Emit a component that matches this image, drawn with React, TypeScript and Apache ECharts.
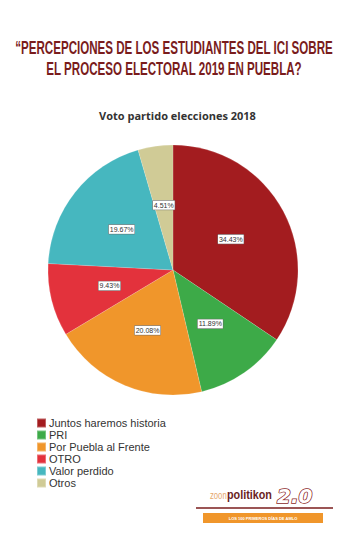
import React, { useEffect, useRef } from "react";
import * as echarts from "echarts";

const categories = ["Juntos haremos historia", "PRI", "Por Puebla al Frente", "OTRO", "Valor perdido", "Otros"];
const values = [34.43, 11.89, 20.08, 9.43, 19.67, 4.51];
const colors = ["#A31C1F", "#3DAA48", "#F0962B", "#E3323C", "#46B7BF", "#D0CB96"];
const titleLines = ["\u201CPERCEPCIONES DE LOS ESTUDIANTES DEL ICI SOBRE", "EL PROCESO ELECTORAL 2019 EN PUEBLA?"];
const subtitle = "Voto partido elecciones 2018";

export default function App() {
  const ref = useRef<HTMLDivElement>(null);
  useEffect(() => {
    if (!ref.current) return;
    const chart = echarts.init(ref.current, undefined, { renderer: "svg" });
    const titleStyle = {
      fill: "#7A1C1C",
      font: "bold 19px 'Liberation Sans', Arial, sans-serif",
      textAlign: "center" as const,
      textVerticalAlign: "middle" as const,
    };
    chart.setOption({
      animation: false,
      backgroundColor: "#ffffff",
      color: colors,
      title: {
        text: subtitle,
        left: "center",
        top: 105,
        textStyle: { color: "#333", fontSize: 11, fontWeight: "bold", fontFamily: "'Open Sans', sans-serif" },
      },
      legend: {
        orient: "vertical",
        left: 36,
        top: 417,
        padding: 0,
        itemWidth: 9,
        itemHeight: 9,
        itemGap: 0,
        icon: "rect",
        data: categories,
        textStyle: { color: "#333", fontSize: 11, lineHeight: 12, fontFamily: "'Liberation Sans', Arial, sans-serif", padding: [0, 0, 0, -2] },
      },
      graphic: [
        { type: "group", x: 174, y: 47, scaleX: 0.61, children: [{ type: "text", x: 0, y: 0, style: { ...titleStyle, text: titleLines[0] } }] },
        { type: "group", x: 174, y: 68, scaleX: 0.61, children: [{ type: "text", x: 0, y: 0, style: { ...titleStyle, text: titleLines[1] } }] },
        { type: "group", x: 210, y: 495, scaleX: 0.7, children: [{ type: "text", x: 0, y: 0, style: { text: "zoon", fill: "#E6A86C", font: "11px 'Liberation Sans', sans-serif", textVerticalAlign: "middle" } }] },
        { type: "group", x: 227, y: 495, scaleX: 0.9, children: [{ type: "text", x: 0, y: 0, style: { text: "politikon", fill: "#6B1E1E", font: "bold 12px 'Liberation Sans', sans-serif", textVerticalAlign: "middle" } }] },
        { type: "text", x: 277, y: 496, style: { text: "2.0", fill: "#ffffff", stroke: "#8A1F1F", lineWidth: 1.5, font: "italic bold 20px 'DejaVu Sans', sans-serif", textVerticalAlign: "middle" } },
        { type: "line", shape: { x1: 196, y1: 508, x2: 333, y2: 508 }, style: { stroke: "#7A1C1C", lineWidth: 1.5 } },
        { type: "rect", shape: { x: 203, y: 513, width: 120, height: 10 }, style: { fill: "#F0962B" } },
        { type: "text", x: 263, y: 518, style: { text: "LOS 100 PRIMEROS DÍAS DE AMLO", fill: "#ffffff", font: "bold 4px sans-serif", textAlign: "center", textVerticalAlign: "middle" } },
      ],
      series: [
        {
          type: "pie",
          center: [173, 270],
          radius: 125,
          startAngle: 90,
          clockwise: true,
          label: {
            show: true,
            position: "inside",
            formatter: (p: any) => p.value.toFixed(2) + "%",
            fontSize: 7,
            color: "#333",
            backgroundColor: "#fff",
            borderColor: "#666",
            borderWidth: 0.5,
            padding: [1, 1],
            fontFamily: "'Liberation Sans', Arial, sans-serif",
          },
          labelLine: { show: false },
          itemStyle: { borderColor: "rgba(255,255,255,0.3)", borderWidth: 0.5 },
          emphasis: { disabled: true },
          data: categories.map((c, i) => ({ name: c, value: values[i] })),
        },
      ],
    });
    return () => chart.dispose();
  }, []);
  return <div ref={ref} style={{ position: "fixed", left: 0, top: 0, width: 355, height: 540 }} />;
}
